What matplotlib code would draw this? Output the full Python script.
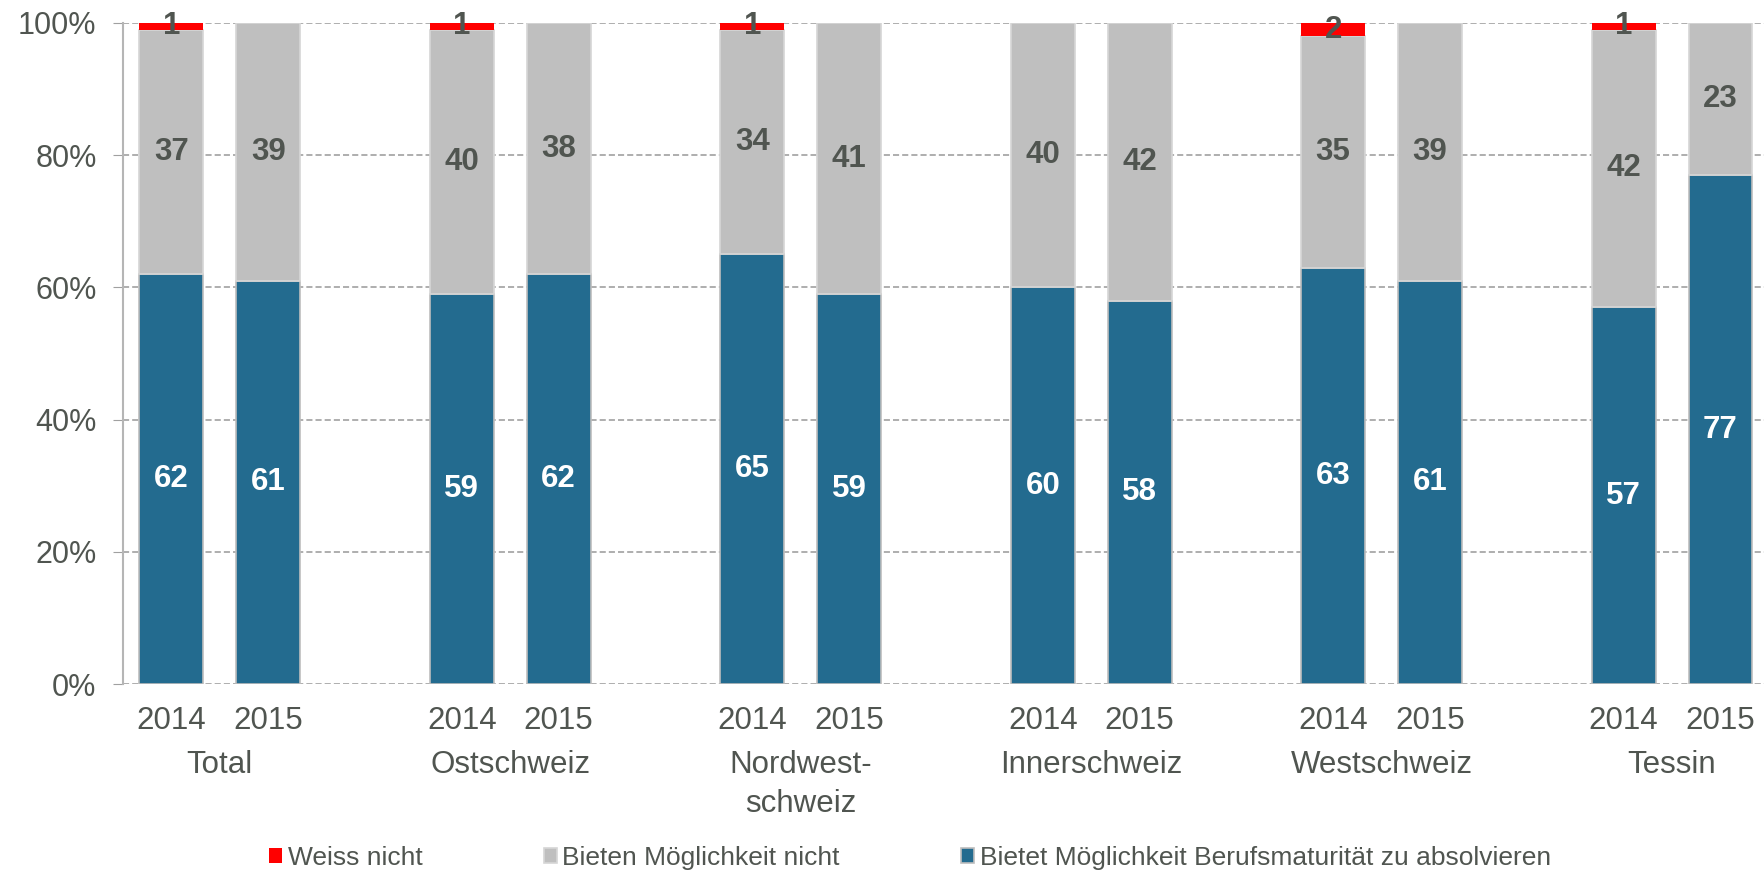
import numpy as np
import matplotlib
matplotlib.use('Agg')
import matplotlib.pyplot as plt
from matplotlib.transforms import blended_transform_factory

plt.rcParams['font.family'] = ['Liberation Sans', 'DejaVu Sans']

regions = ['Total', 'Ostschweiz', 'Nordwest-\nschweiz', 'Innerschweiz', 'Westschweiz', 'Tessin']
years = ['2014', '2015']

bietet = [62, 61, 59, 62, 65, 59, 60, 58, 63, 61, 57, 77]
nicht = [37, 39, 40, 38, 34, 41, 40, 42, 35, 39, 42, 23]
weiss = [1, 0, 1, 0, 1, 0, 0, 0, 2, 0, 1, 0]

legend_labels = ['Weiss nicht', 'Bieten Möglichkeit nicht',
                 'Bietet Möglichkeit Berufsmaturität zu absolvieren']

TXT = '#505550'
BLUE = '#236B8F'
GREY = '#BFBFBF'
RED = '#FF0000'

x = np.array([3 * g + i for g in range(len(regions)) for i in range(len(years))], dtype=float)
b = np.array(bietet)
n = np.array(nicht)
w = np.array(weiss)

fig = plt.figure(figsize=(17.65, 8.74), dpi=100)
ax = fig.add_axes([123 / 1765, 1 - 684 / 874, 1 - 123 / 1765, (684 - 23) / 874])

bw = 0.66
bars_b = ax.bar(x, b, bw, color=BLUE, edgecolor='#BDBDBD', linewidth=1.2, zorder=2)
bars_n = ax.bar(x, n, bw, bottom=b, color=GREY, edgecolor='#D6D6D6', linewidth=1.2, zorder=2)
bars_w = ax.bar(x, w, bw, bottom=b + n, color=RED, edgecolor='none', linewidth=0, zorder=2)

# value labels in the middle of each segment
for xi, bv, nv, wv in zip(x, b, n, w):
    ax.text(xi, bv / 2, str(bv), ha='center', va='center', color='white',
            fontsize=22.5, fontweight='bold', zorder=3)
    ax.text(xi, bv + nv / 2, str(nv), ha='center', va='center', color=TXT,
            fontsize=22.5, fontweight='bold', zorder=3)
    if wv > 0:
        ax.text(xi, bv + nv + wv / 2, str(wv), ha='center', va='center', color=TXT,
                fontsize=22.5, fontweight='bold', zorder=3)

ax.set_ylim(0, 100)
ax.set_xlim(-0.5, 16.46)
ax.set_yticks(np.arange(0, 101, 20))
ax.set_yticklabels([f'{v}%' for v in range(0, 101, 20)])
ax.set_xticks(x)
ax.set_xticklabels(years * len(regions))
ax.tick_params(axis='y', length=7, color='#A0A0A0', labelsize=22, labelcolor=TXT, pad=12)
ax.tick_params(axis='x', length=0, labelsize=22.5, labelcolor=TXT, pad=15.5)

ax.set_axisbelow(True)
ax.grid(axis='y', linestyle=(0, (4, 2)), color='#999999', linewidth=1.1)
for s in ['top', 'right', 'bottom']:
    ax.spines[s].set_visible(False)
ax.spines['left'].set_color('#B5B5B5')
ax.spines['left'].set_linewidth(1.5)

trans = blended_transform_factory(ax.transData, ax.transAxes)
for g, name in enumerate(regions):
    ax.text(3 * g + 0.5, -0.1, name, transform=trans, ha='center', va='top',
            fontsize=22.5, color=TXT, linespacing=1.4)

fig.legend([bars_w, bars_n, bars_b], legend_labels, loc='center',
           bbox_to_anchor=(0.5156, 0.018), ncol=3, frameon=False, fontsize=19,
           labelcolor=TXT, handlelength=0.5, handleheight=0.5,
           handletextpad=0.2, columnspacing=4.6)

fig.savefig('out.png', dpi=100)
